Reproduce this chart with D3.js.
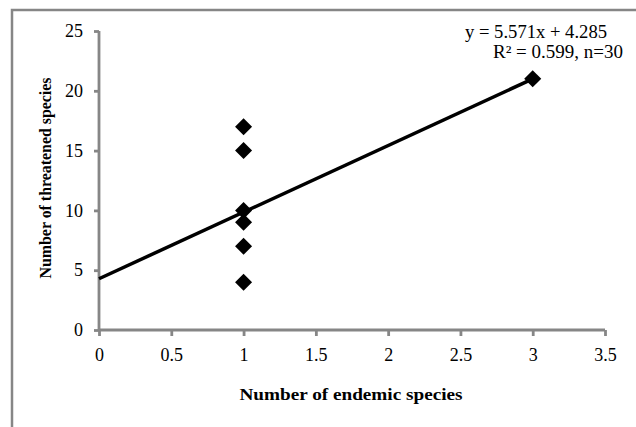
<!DOCTYPE html>
<html>
<head>
<meta charset="utf-8">
<script src="https://cdn.jsdelivr.net/npm/d3@7"></script>
<style>
  body { margin: 0; background: #fff; }
  text { font-family: "Liberation Serif", "Times New Roman", serif; }
</style>
</head>
<body>
<script>
  // data (many points overlap, n=30)
  var endemic = [1, 1, 1, 1, 1, 1, 3];
  var threatened = [17, 15, 10, 9, 7, 4, 21];
  var xTicks = [0, 0.5, 1, 1.5, 2, 2.5, 3, 3.5];
  var yTicks = [0, 5, 10, 15, 20, 25];
  var slope = 5.571, intercept = 4.285;
  var fitRange = [0, 3];

  var width = 636, height = 427;
  var axisColor = "#868686";

  var svg = d3.select("body").append("svg")
    .attr("width", width)
    .attr("height", height);

  // outer frame (only top and left visible)
  svg.append("path")
    .attr("d", "M12,430 L12,10 L640,10")
    .attr("fill", "none")
    .attr("stroke", axisColor)
    .attr("stroke-width", 2.5);

  var x = d3.scaleLinear().domain([0, 3.5]).range([99, 605]);
  var y = d3.scaleLinear().domain([0, 25]).range([330, 31]);

  var xAxis = d3.axisBottom(x).tickValues(xTicks).tickSize(6).tickPadding(12)
    .tickFormat(function(d){ return d; });
  var yAxis = d3.axisLeft(y).tickValues(yTicks).tickSize(5).tickPadding(11);

  var gx = svg.append("g").attr("transform", "translate(0,330)").call(xAxis);
  var gy = svg.append("g").attr("transform", "translate(99,0)").call(yAxis);

  [gx, gy].forEach(function(g){
    g.select(".domain").attr("stroke", axisColor).attr("stroke-width", 2.8);
    g.selectAll(".tick line").attr("stroke", axisColor).attr("stroke-width", 2.8);
    g.selectAll(".tick text")
      .attr("fill", "#000")
      .style("font-family", "Liberation Serif")
      .style("font-size", "18px");
  });
  gx.select(".domain").attr("d", "M99,0H605");
  gy.select(".domain").attr("d", "M0,330V31");

  // regression line
  svg.append("line")
    .attr("x1", x(fitRange[0])).attr("y1", y(intercept + slope * fitRange[0]))
    .attr("x2", x(fitRange[1])).attr("y2", y(intercept + slope * fitRange[1]))
    .attr("stroke", "#000")
    .attr("stroke-width", 3.5);

  // diamond markers
  var diamond = d3.symbol().type(d3.symbolSquare).size(145);
  svg.selectAll(".pt")
    .data(endemic)
    .enter()
      .append("path")
      .attr("class", "pt")
      .attr("d", diamond)
      .attr("transform", function(d, i){
        return "translate(" + x(d) + "," + y(threatened[i]) + ") rotate(45)";
      })
      .attr("fill", "#000");

  // equation text
  svg.append("text")
    .attr("x", 607).attr("y", 38)
    .attr("text-anchor", "end")
    .attr("textLength", 142)
    .attr("lengthAdjust", "spacingAndGlyphs")
    .style("font-size", "18px")
    .text("y = 5.571x + 4.285");
  svg.append("text")
    .attr("x", 623).attr("y", 58)
    .attr("text-anchor", "end")
    .attr("textLength", 130)
    .attr("lengthAdjust", "spacingAndGlyphs")
    .style("font-size", "18px")
    .text("R\u00b2 = 0.599, n=30");

  // axis titles
  svg.append("text")
    .attr("x", 351).attr("y", 400)
    .attr("text-anchor", "middle")
    .attr("textLength", 223)
    .attr("lengthAdjust", "spacingAndGlyphs")
    .style("font-size", "17px")
    .style("font-weight", "bold")
    .text("Number of endemic species");

  svg.append("text")
    .attr("transform", "translate(51,178) rotate(-90)")
    .attr("text-anchor", "middle")
    .attr("textLength", 201)
    .attr("lengthAdjust", "spacingAndGlyphs")
    .style("font-size", "16px")
    .style("font-weight", "bold")
    .text("Number of threatened species");
</script>
</body>
</html>
